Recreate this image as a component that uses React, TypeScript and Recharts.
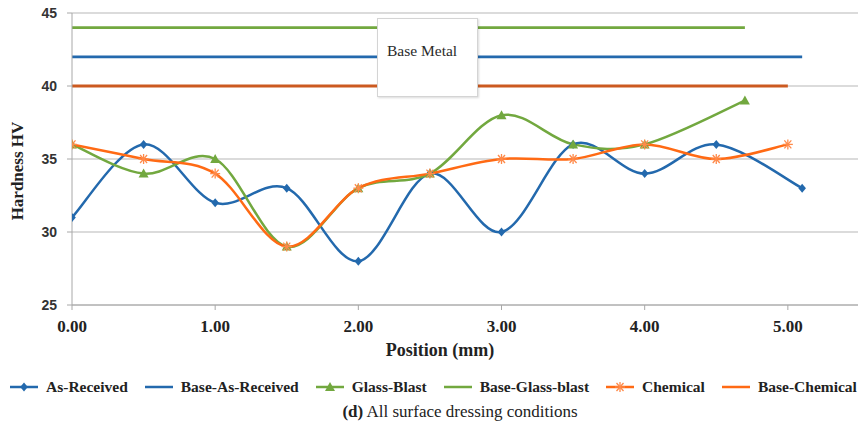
import React from 'react';
import { ComposedChart, Line, XAxis, YAxis, CartesianGrid, Label } from 'recharts';

// positions (mm) and hardness (HV)
const asReceivedX = [0, 0.5, 1, 1.5, 2, 2.5, 3, 3.5, 4, 4.5, 5.1];
const asReceivedHV = [31, 36, 32, 33, 28, 34, 30, 36, 34, 36, 33];

const glassBlastX = [0, 0.5, 1, 1.5, 2, 2.5, 3, 3.5, 4, 4.7];
const glassBlastHV = [36, 34, 35, 29, 33, 34, 38, 36, 36, 39];

const chemicalX = [0, 0.5, 1, 1.5, 2, 2.5, 3, 3.5, 4, 4.5, 5];
const chemicalHV = [36, 35, 34, 29, 33, 34, 35, 35, 36, 35, 36];

// base metal hardness, drawn from 0 to the last measured position
const baseAsReceived = 42;
const baseGlassBlast = 44;
const baseChemical = 40;

const xTicks = [0, 1, 2, 3, 4, 5];
const yTicks = [25, 30, 35, 40, 45];

const BLUE = '#2369ad';
const GREEN = '#72a83f';
const ORANGE = '#ff6a14';

const toRows = (xs: number[], ys: number[]) => xs.map((x, i) => ({ x, y: ys[i] }));
const flat = (xs: number[], v: number) => [
  { x: xs[0], y: v },
  { x: xs[xs.length - 1], y: v },
];

const asReceivedData = toRows(asReceivedX, asReceivedHV);
const glassBlastData = toRows(glassBlastX, glassBlastHV);
const chemicalData = toRows(chemicalX, chemicalHV);

// Excel-style smoothed line (Catmull-Rom as cubic beziers)
const excelSmooth = (context: any) => {
  let pts: number[][] = [];
  return {
    areaStart() {},
    areaEnd() {},
    lineStart() {
      pts = [];
    },
    point(x: number, y: number) {
      pts.push([+x, +y]);
    },
    lineEnd() {
      const n = pts.length;
      if (!n) return;
      context.moveTo(pts[0][0], pts[0][1]);
      for (let i = 0; i < n - 1; i++) {
        const p0 = pts[Math.max(i - 1, 0)];
        const p1 = pts[i];
        const p2 = pts[i + 1];
        const p3 = pts[Math.min(i + 2, n - 1)];
        context.bezierCurveTo(
          p1[0] + (p2[0] - p0[0]) / 6,
          p1[1] + (p2[1] - p0[1]) / 6,
          p2[0] - (p3[0] - p1[0]) / 6,
          p2[1] - (p3[1] - p1[1]) / 6,
          p2[0],
          p2[1]
        );
      }
    },
  };
};

const Diamond = ({ cx, cy, color }: any) => (
  <polygon points={`${cx},${cy - 4.5} ${cx + 3.8},${cy} ${cx},${cy + 4.5} ${cx - 3.8},${cy}`} fill={color} />
);

const Triangle = ({ cx, cy, color }: any) => (
  <polygon points={`${cx},${cy - 5} ${cx + 5},${cy + 4} ${cx - 5},${cy + 4}`} fill={color} />
);

const Asterisk = ({ cx, cy, color }: any) => (
  <g stroke={color} strokeWidth={1.3}>
    <line x1={cx - 5} y1={cy} x2={cx + 5} y2={cy} />
    <line x1={cx - 3.5} y1={cy - 4} x2={cx + 3.5} y2={cy + 4} />
    <line x1={cx - 3.5} y1={cy + 4} x2={cx + 3.5} y2={cy - 4} />
    <line x1={cx} y1={cy - 5} x2={cx} y2={cy + 5} />
  </g>
);

const legendItems = [
  { name: 'As-Received', color: BLUE, marker: 'diamond' },
  { name: 'Base-As-Received', color: BLUE, marker: 'none' },
  { name: 'Glass-Blast', color: GREEN, marker: 'triangle' },
  { name: 'Base-Glass-blast', color: GREEN, marker: 'none' },
  { name: 'Chemical', color: ORANGE, marker: 'asterisk' },
  { name: 'Base-Chemical', color: ORANGE, marker: 'none' },
];

const LegendMarker = ({ color, marker }: any) => (
  <svg width={28} height={12} style={{ display: 'block' }}>
    <line x1={0} y1={6} x2={28} y2={6} stroke={color} strokeWidth={2.5} />
    {marker === 'diamond' && <Diamond cx={14} cy={6} color={color} />}
    {marker === 'triangle' && <Triangle cx={14} cy={6} color={color} />}
    {marker === 'asterisk' && <Asterisk cx={14} cy={6} color="#ff8a4a" />}
  </svg>
);

const serif = '"Liberation Serif", "Times New Roman", serif';

export default function App() {
  return (
    <div style={{ position: 'relative', width: 858, height: 433, background: '#fff', fontFamily: serif }}>
      <style>{'body{margin:0}'}</style>
      <ComposedChart width={858} height={433} margin={{ top: 13, right: 0, bottom: 98, left: 0 }}>
        <CartesianGrid vertical={false} stroke="#b8b8b8" strokeWidth={1.2} />
        <XAxis
          type="number"
          dataKey="x"
          height={30}
          domain={[0, 5.49]}
          ticks={xTicks}
          allowDataOverflow
          tickFormatter={(v: number) => v.toFixed(2)}
          stroke="#a8a8a8"
          tickSize={5}
          tickMargin={10}
          tick={{ fontFamily: serif, fontWeight: 'bold', fontSize: 17, fill: '#222' }}
        >
          <Label
            content={() => (
              <text x={440} y={356} textAnchor="middle" fontFamily={serif} fontWeight="bold" fontSize={18} fill="#222">
                Position (mm)
              </text>
            )}
          />
        </XAxis>
        <YAxis
          type="number"
          dataKey="y"
          width={72}
          domain={[25, 45]}
          ticks={yTicks}
          stroke="#a8a8a8"
          tickSize={5}
          tickMargin={10}
          tick={{ fontFamily: '"Liberation Sans", Arial, sans-serif', fontWeight: 'bold', fontSize: 14, fill: '#333' }}
        >
          <Label
            content={() => (
              <text
                x={23}
                y={171}
                transform="rotate(-90 23 171)"
                textAnchor="middle"
                fontFamily={serif}
                fontWeight="bold"
                fontSize={17}
                fill="#222"
              >
                Hardness HV
              </text>
            )}
          />
        </YAxis>

        <Line
          data={asReceivedData}
          dataKey="y"
          name="As-Received"
          type={excelSmooth as any}
          stroke={BLUE}
          strokeWidth={2.5}
          dot={(p: any) => <Diamond key={`ar-${p.index}`} cx={p.cx} cy={p.cy} color={BLUE} />}
          activeDot={false}
          isAnimationActive={false}
        />
        <Line
          data={flat(asReceivedX, baseAsReceived)}
          dataKey="y"
          name="Base-As-Received"
          type="linear"
          stroke={BLUE}
          strokeWidth={2.8}
          dot={false}
          activeDot={false}
          isAnimationActive={false}
        />
        <Line
          data={glassBlastData}
          dataKey="y"
          name="Glass-Blast"
          type={excelSmooth as any}
          stroke={GREEN}
          strokeWidth={2.5}
          dot={(p: any) => <Triangle key={`gb-${p.index}`} cx={p.cx} cy={p.cy} color={GREEN} />}
          activeDot={false}
          isAnimationActive={false}
        />
        <Line
          data={flat(glassBlastX, baseGlassBlast)}
          dataKey="y"
          name="Base-Glass-blast"
          type="linear"
          stroke={GREEN}
          strokeWidth={2.8}
          dot={false}
          activeDot={false}
          isAnimationActive={false}
        />
        <Line
          data={chemicalData}
          dataKey="y"
          name="Chemical"
          type={excelSmooth as any}
          stroke={ORANGE}
          strokeWidth={2.5}
          dot={(p: any) => <Asterisk key={`ch-${p.index}`} cx={p.cx} cy={p.cy} color="#ff8a4a" />}
          activeDot={false}
          isAnimationActive={false}
        />
        <Line
          data={flat(chemicalX, baseChemical)}
          dataKey="y"
          name="Base-Chemical"
          type="linear"
          stroke="#cc5a20"
          strokeWidth={2.8}
          dot={false}
          activeDot={false}
          isAnimationActive={false}
        />
      </ComposedChart>

      <div
        style={{
          position: 'absolute',
          left: 377,
          top: 18,
          width: 101,
          height: 79,
          background: '#fff',
          border: '1px solid #d4d4d4',
          boxShadow: '1px 1px 2px rgba(0,0,0,0.15)',
          boxSizing: 'border-box',
          fontSize: 15.5,
          color: '#2a2a2a',
          paddingLeft: 9,
          paddingTop: 23,
          lineHeight: '18px',
          whiteSpace: 'nowrap',
        }}
      >
        Base Metal
      </div>

      <div
        style={{
          position: 'absolute',
          left: 10,
          top: 378,
          display: 'flex',
          alignItems: 'center',
          gap: 17,
          whiteSpace: 'nowrap',
        }}
      >
        {legendItems.map((it) => (
          <div key={it.name} style={{ display: 'flex', alignItems: 'center', gap: 8 }}>
            <LegendMarker color={it.color} marker={it.marker} />
            <span style={{ fontWeight: 'bold', fontSize: 15.5, color: '#222', lineHeight: '18px' }}>{it.name}</span>
          </div>
        ))}
      </div>

      <div
        style={{
          position: 'absolute',
          left: 0,
          width: 920,
          top: 402,
          textAlign: 'center',
          fontSize: 17,
          lineHeight: '19px',
          color: '#222',
        }}
      >
        <b>(d)</b> All surface dressing conditions
      </div>
    </div>
  );
}
